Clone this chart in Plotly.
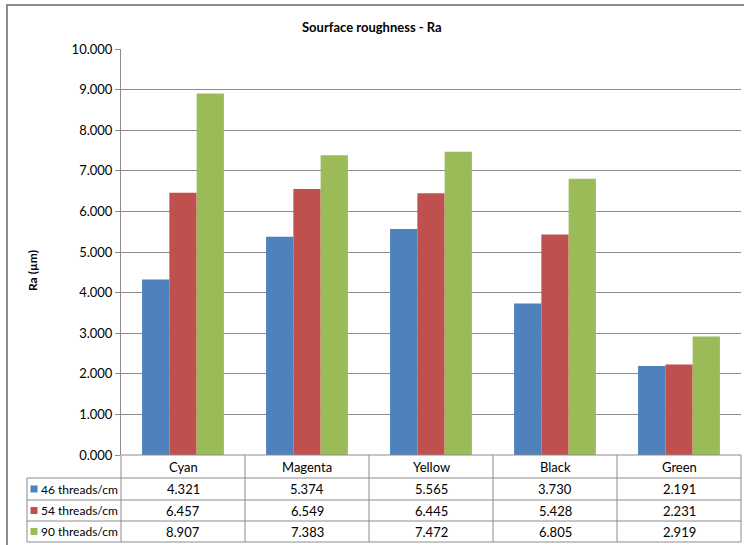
import plotly.graph_objects as go

categories = ["Cyan", "Magenta", "Yellow", "Black", "Green"]
series_names = ["46 threads/cm", "54 threads/cm", "90 threads/cm"]
s46 = [4.321, 5.374, 5.565, 3.730, 2.191]
s54 = [6.457, 6.549, 6.445, 5.428, 2.231]
s90 = [8.907, 7.383, 7.472, 6.805, 2.919]
series_values = [s46, s54, s90]
colors = ["#4F81BD", "#C0504D", "#9BBB59"]
title = "Sourface roughness - Ra"
y_title = "Ra (µm)"

W, H = 744, 545
FONT = "Lato, Carlito, Calibri, sans-serif"

def px(x):
    return x / W

def py(y):
    return 1 - y / H

plot_left, plot_right = 121, 741
plot_top, plot_bottom = 49, 455
row_edges = [455, 478, 500, 521, 542]
label_left = 27

fig = go.Figure()
for name, vals, c in zip(series_names, series_values, colors):
    fig.add_trace(go.Bar(x=categories, y=vals, name=name, marker=dict(color=c, line=dict(width=0))))

grid = "#8C8C8C"
fig.update_layout(
    width=W, height=H, margin=dict(l=0, r=0, t=0, b=0, pad=0, autoexpand=False),
    paper_bgcolor="white", plot_bgcolor="white",
    barmode="group", bargap=0.34, bargroupgap=0,
    showlegend=False,
    font=dict(family=FONT, size=12, color="#000000"),
    xaxis=dict(domain=[px(plot_left), px(plot_right)], showticklabels=False,
               showline=False, ticks="", showgrid=False, automargin=False),
    yaxis=dict(domain=[py(plot_bottom), py(plot_top)], range=[0, 10], dtick=1,
               tickformat=".3f", showgrid=True, gridcolor=grid, gridwidth=1,
               showline=True, linecolor=grid, linewidth=1, ticks="outside",
               ticklen=5, tickcolor=grid, zeroline=False, automargin=False,
               tickfont=dict(family=FONT, size=13, color="#000")),
)

shapes = []
# outer chart border
shapes.append(dict(type="rect", xref="paper", yref="paper", x0=px(7), x1=px(746),
                   y0=py(548), y1=py(5), line=dict(color="#8C8C8C", width=2)))
# table horizontal lines
for i, y in enumerate(row_edges):
    x0 = plot_left if i == 0 else label_left
    shapes.append(dict(type="line", xref="paper", yref="paper", x0=px(x0), x1=px(plot_right),
                       y0=py(y), y1=py(y), line=dict(color=grid, width=1)))
# vertical lines
ncat = len(categories)
colw = (plot_right - plot_left) / ncat
for j in range(ncat + 1):
    x = plot_left + j * colw
    shapes.append(dict(type="line", xref="paper", yref="paper", x0=px(x), x1=px(x),
                       y0=py(row_edges[0]), y1=py(row_edges[-1]), line=dict(color=grid, width=1)))
shapes.append(dict(type="line", xref="paper", yref="paper", x0=px(label_left), x1=px(label_left),
                   y0=py(row_edges[1]), y1=py(row_edges[-1]), line=dict(color=grid, width=1)))

annotations = []
def ann(text, x, y, size=13, xanchor="center", angle=0):
    annotations.append(dict(text=text, x=px(x), y=py(y), xref="paper", yref="paper",
                            xanchor=xanchor, yanchor="middle", showarrow=False, textangle=angle,
                            font=dict(family=FONT, size=size, color="#000")))

ann("<b>" + title + "</b>", 372, 27, size=13)
ann("<b>" + y_title + "</b>", 32, 271, size=12, angle=-90)
for j, cat in enumerate(categories):
    cx = plot_left + (j + 0.5) * colw
    ann(cat, cx, (row_edges[0] + row_edges[1]) / 2)
for i, (name, vals, c) in enumerate(zip(series_names, series_values, colors)):
    ycen = (row_edges[i + 1] + row_edges[i + 2]) / 2
    shapes.append(dict(type="rect", xref="paper", yref="paper", x0=px(30.5), x1=px(37.5),
                       y0=py(ycen + 3.5), y1=py(ycen - 3.5), fillcolor=c, line=dict(width=0)))
    ann(name, 38.5, ycen, size=12, xanchor="left")
    for j, v in enumerate(vals):
        cx = plot_left + (j + 0.5) * colw
        ann(f"{v:.3f}", cx, ycen)

fig.update_layout(shapes=shapes, annotations=annotations)
fig.write_html("out.html")
